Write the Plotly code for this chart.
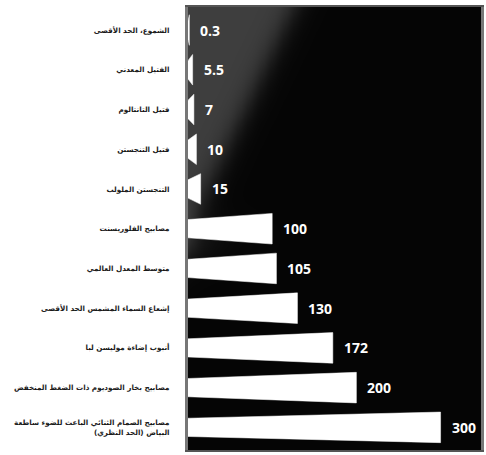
import numpy as np
import plotly.graph_objects as go

# Luminous efficacy of light sources (lm/W)
labels = [
    "الشموع، الحد الأقصى",
    "الفتيل المعدني",
    "فتيل التانتالوم",
    "فتيل التنجستن",
    "التنجستن الملولب",
    "مصابيح الفلوريسنت",
    "متوسط المعدل العالمي",
    "إشعاع السماء المشمس الحد الأقصى",
    "أنبوب إضاءة موليسن لبا",
    "مصابيح بخار الصوديوم ذات الضغط المنخفض",
    "مصابيح الصمام الثنائي الباعث للضوء ساطعة<br>البياض (الحد النظري)",
]
values = [0.3, 5.5, 7, 10, 15, 100, 105, 130, 172, 200, 300]
value_text = ["0.3", "5.5", "7", "10", "15", "100", "105", "130", "172", "200", "300"]

X_MAX = 348
Y_TOP, Y_BOT = -0.58, 10.57

fig = go.Figure()

# Dark panel with a grey haze in the upper-left corner
gx = np.linspace(0, X_MAX, 90)
gy = np.linspace(Y_TOP, Y_BOT, 90)
GX, GY = np.meshgrid(gx, gy)
px = GX / X_MAX
py = (GY - Y_TOP) / (Y_BOT - Y_TOP)
edge = 0.36 - 0.72 * py
haze = 1.0 / (1.0 + np.exp(-(edge - px) / 0.025))
trail = 0.45 * np.exp(-((py - 0.52) / 0.06) ** 2) * np.exp(-px / 0.08)
z = np.clip(haze + trail, 0, 1)
fig.add_trace(go.Heatmap(
    x=gx, y=gy, z=z, zsmooth="best", showscale=False, hoverinfo="skip",
    colorscale=[[0, "#050505"], [1, "#3e3e3e"]], zmin=0, zmax=1,
))

# Tapered white bars: short edge at the axis, full height at the value end
half_left, half_right = 0.23, 0.385
for i, v in enumerate(values):
    w = max(v, 1.6)
    xs = [0, w, w, 0, 0]
    ys = [i - half_left, i - half_right, i + half_right, i + half_left, i - half_left]
    fig.add_trace(go.Scatter(
        x=xs, y=ys, mode="lines", fill="toself", fillcolor="#ffffff",
        line=dict(color="#ffffff", width=0.5), hoverinfo="skip", showlegend=False,
    ))
    fig.add_annotation(
        x=w, y=i, text=f"<b>{value_text[i]}</b>", showarrow=False,
        xanchor="left", xshift=9, font=dict(family="Open Sans", size=14, color="#ffffff"),
    )

fig.update_layout(
    width=486, height=455,
    margin=dict(l=188, r=5, t=5, b=5),
    paper_bgcolor="#ffffff", plot_bgcolor="#050505",
    showlegend=False,
    xaxis=dict(range=[0, X_MAX], showgrid=False, zeroline=False, showticklabels=False,
               showline=True, linecolor="#555555", linewidth=2, mirror=True, fixedrange=True),
    yaxis=dict(range=[Y_BOT, Y_TOP], showgrid=False, zeroline=False, automargin=False,
               tickmode="array", tickvals=list(range(len(labels))), ticktext=labels,
               tickfont=dict(family="DejaVu Sans", size=7.2, color="#1a1a1a", weight="bold"),
               ticks="", ticklabelstandoff=14,
               showline=True, linecolor="#777777", linewidth=3, mirror=True),
)

fig.write_html("out.html")
